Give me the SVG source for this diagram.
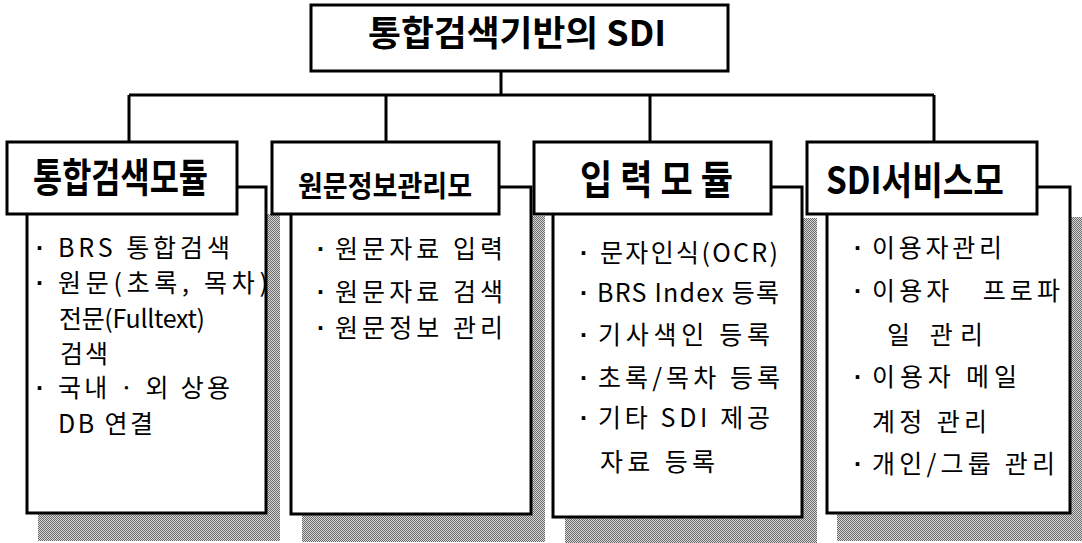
<svg xmlns="http://www.w3.org/2000/svg" width="1082" height="543" viewBox="0 0 1082 543">
<style>
.box{fill:#fff;stroke:#000;stroke-width:3}
.conn{fill:none;stroke:#000;stroke-width:3}
.shadow{fill:url(#dither);stroke:none}
.title{font-family:"Noto Sans CJK KR","Liberation Sans",sans-serif;font-weight:bold;fill:#000}
.hd{font-family:"Noto Sans CJK KR","Liberation Sans",sans-serif;font-weight:bold;fill:#000}
.tx{font-family:"Noto Sans CJK KR","Liberation Sans",sans-serif;font-size:25px;fill:#000}
.dot{font-family:"Liberation Sans",sans-serif;font-weight:bold}
</style>
<defs>
<pattern id="dither" width="2" height="2" patternUnits="userSpaceOnUse">
<rect width="2" height="2" fill="#d8d8d8"/>
<rect x="0" y="0" width="1" height="1" fill="#6a6a6a"/>
<rect x="1" y="1" width="1" height="1" fill="#6a6a6a"/>
</pattern>
<clipPath id="clip1"><rect x="28" y="188" width="237" height="324"/></clipPath>
</defs>

<g id="connectors">
<path class="conn" d="M501 71 V95 M129 95 H934 M129 95 V142 M386 95 V142 M650 95 V142 M934 95 V142"/>
</g>

<g id="shadows">
<rect class="shadow" x="38" y="214" width="242" height="327"/>
<rect class="shadow" x="302" y="216" width="243" height="326"/>
<rect class="shadow" x="565" y="218" width="252" height="325"/>
<rect class="shadow" x="837" y="217" width="245" height="324"/>
</g>

<g id="root">
<rect class="box" x="311" y="5" width="417" height="66"/>
<text class="title" x="368" y="46" font-size="35" textLength="298" lengthAdjust="spacingAndGlyphs">통합검색기반의 SDI</text>
</g>

<g id="module1">
<rect class="box" x="27" y="187" width="239" height="326"/>
<g clip-path="url(#clip1)">
<text class="tx" y="257"><tspan class="dot" x="36">·</tspan><tspan x="58" textLength="172">BRS 통합검색</tspan></text>
<text class="tx" y="292"><tspan class="dot" x="36">·</tspan><tspan x="58" textLength="210">원문(초록, 목차)</tspan></text>
<text class="tx" x="59" y="328" textLength="146">전문(Fulltext)</text>
<text class="tx" x="60" y="363" textLength="48">검색</text>
<text class="tx" y="397"><tspan class="dot" x="36">·</tspan><tspan x="58" textLength="172">국내 · 외 상용</tspan></text>
<text class="tx" x="58" y="433" textLength="95">DB 연결</text>
</g>
<rect class="box" x="7" y="142" width="230" height="72"/>
<text class="hd" x="33" y="192" font-size="40" textLength="175" lengthAdjust="spacingAndGlyphs">통합검색모듈</text>
</g>

<g id="module2">
<rect class="box" x="291" y="187" width="240" height="327"/>
<text class="tx" y="258"><tspan class="dot" x="317">·</tspan><tspan x="335" textLength="168">원문자료 입력</tspan></text>
<text class="tx" y="301"><tspan class="dot" x="317">·</tspan><tspan x="335" textLength="168">원문자료 검색</tspan></text>
<text class="tx" y="337"><tspan class="dot" x="317">·</tspan><tspan x="335" textLength="168">원문정보 관리</tspan></text>
<rect class="box" x="272" y="142" width="227" height="72"/>
<text class="hd" x="298" y="197" font-size="29" textLength="174" lengthAdjust="spacingAndGlyphs">원문정보관리모</text>
</g>

<g id="module3">
<rect class="box" x="553" y="187" width="249" height="330"/>
<text class="tx" y="262"><tspan class="dot" x="580">·</tspan><tspan x="600" textLength="178">문자인식(OCR)</tspan></text>
<text class="tx" y="302"><tspan class="dot" x="580">·</tspan><tspan x="597" textLength="182">BRS Index 등록</tspan></text>
<text class="tx" y="344"><tspan class="dot" x="580">·</tspan><tspan x="598" textLength="172">기사색인 등록</tspan></text>
<text class="tx" y="387"><tspan class="dot" x="580">·</tspan><tspan x="598" textLength="182">초록/목차 등록</tspan></text>
<text class="tx" y="427"><tspan class="dot" x="580">·</tspan><tspan x="598" textLength="172">기타 SDI 제공</tspan></text>
<text class="tx" x="600" y="471" textLength="115">자료 등록</text>
<rect class="box" x="534" y="142" width="237" height="72"/>
<text class="hd" x="580" y="194" font-size="40" textLength="153" lengthAdjust="spacingAndGlyphs">입 력 모 듈</text>
</g>

<g id="module4">
<rect class="box" x="827" y="187" width="243" height="326"/>
<text class="tx" y="257"><tspan class="dot" x="854">·</tspan><tspan x="872" textLength="130">이용자관리</tspan></text>
<text class="tx" y="300" xml:space="preserve"><tspan class="dot" x="854">·</tspan><tspan x="872" textLength="188">이용자   프로파</tspan></text>
<text class="tx" x="887" y="344" textLength="96">일 관리</text>
<text class="tx" y="386"><tspan class="dot" x="854">·</tspan><tspan x="872" textLength="145">이용자 메일</tspan></text>
<text class="tx" x="872" y="431" textLength="115">계정 관리</text>
<text class="tx" y="473"><tspan class="dot" x="854">·</tspan><tspan x="872" textLength="183">개인/그룹 관리</tspan></text>
<rect class="box" x="807" y="142" width="230" height="72"/>
<text class="hd" x="826" y="194" font-size="38" textLength="178" lengthAdjust="spacingAndGlyphs">SDI서비스모</text>
</g>
</svg>
